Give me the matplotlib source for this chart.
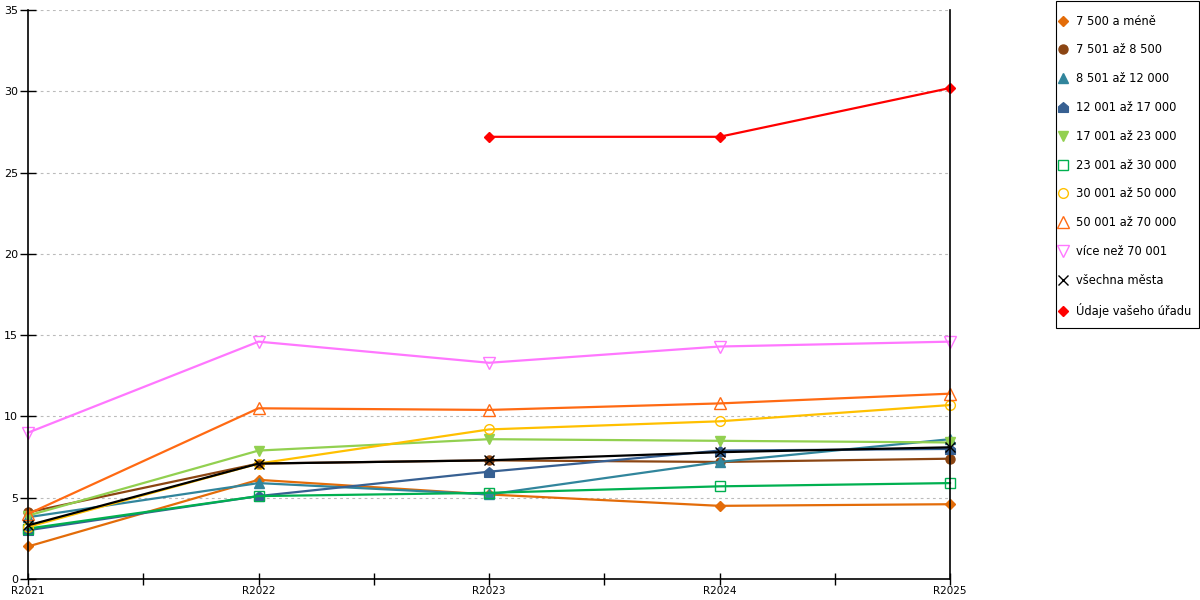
import numpy as np
import matplotlib

matplotlib.use('Agg')
import matplotlib.pyplot as plt
from matplotlib.lines import Line2D
from matplotlib.path import Path
from matplotlib.patches import Rectangle

years = ['R2021', 'R2022', 'R2023', 'R2024', 'R2025']

labels = ['7 500 a méně', '7 501 až 8 500', '8 501 až 12 000', '12 001 až 17 000',
          '17 001 až 23 000', '23 001 až 30 000', '30 001 až 50 000', '50 001 až 70 000',
          'více než 70 001', 'všechna města', 'Údaje vašeho úřadu']

s_7500 = [2.0, 6.1, 5.2, 4.5, 4.6]
s_8500 = [4.1, 7.1, 7.3, 7.2, 7.4]
s_12000 = [3.8, 5.9, 5.2, 7.2, 8.6]
s_17000 = [3.0, 5.1, 6.6, 7.9, 8.0]
s_23000 = [3.9, 7.9, 8.6, 8.5, 8.4]
s_30000 = [3.1, 5.1, 5.3, 5.7, 5.9]
s_50000 = [3.2, 7.1, 9.2, 9.7, 10.7]
s_70000 = [4.0, 10.5, 10.4, 10.8, 11.4]
s_over = [9.0, 14.6, 13.3, 14.3, 14.6]
s_all = [3.3, 7.1, 7.3, 7.8, 8.1]
s_office = [np.nan, np.nan, 27.2, 27.2, 30.2]

# house shaped marker (like the original)
house = Path([(-1, -1), (1, -1), (1, 0.15), (0, 1), (-1, 0.15), (-1, -1)],
             [Path.MOVETO, Path.LINETO, Path.LINETO, Path.LINETO, Path.LINETO, Path.CLOSEPOLY])

# (values, colour, marker, filled, size)
styles = [
    (s_7500, '#E36C09', 'D', True, 5),
    (s_8500, '#8B4513', 'o', True, 6.5),
    (s_12000, '#31859C', '^', True, 7),
    (s_17000, '#376092', house, True, 7),
    (s_23000, '#92D050', 'v', True, 7),
    (s_30000, '#00B050', 's', False, 7),
    (s_50000, '#FFC000', 'o', False, 7),
    (s_70000, '#FF6A13', '^', False, 8),
    (s_over, '#FF77FF', 'v', False, 8),
    (s_all, '#000000', 'x', True, 7),
    (s_office, '#FF0000', 'D', True, 5),
]

plt.rcParams['font.family'] = ['DejaVu Sans']
fig = plt.figure(figsize=(12, 6), dpi=100)
ax = fig.add_axes([28 / 1200, 21 / 600, 922 / 1200, 569 / 600])

x = np.arange(len(years))
handles = []
for (vals, col, mk, filled, ms), lab in zip(styles, labels):
    fc = col if filled else 'none'
    ax.plot(x, vals, color=col, lw=1.6, marker=mk, markersize=ms,
            markerfacecolor=fc, markeredgecolor=col, markeredgewidth=1.0, clip_on=False)
    handles.append(Line2D([], [], ls='none', marker=mk, markersize=ms, color=col,
                          markerfacecolor=fc, markeredgecolor=col, markeredgewidth=1.0, label=lab))

ax.set_xlim(0, 4)
ax.set_ylim(0, 35)
ax.set_xticks(x)
ax.set_xticklabels(years)
ax.set_xticks(x[:-1] + 0.5, minor=True)
ax.set_yticks(np.arange(0, 36, 5))
ax.tick_params(axis='x', which='both', direction='inout', length=8, width=1, labelsize=7.5, pad=1)
ax.tick_params(axis='y', direction='inout', length=12, width=1, labelsize=8, pad=1)
ax.yaxis.grid(True, color='#bbbbbb', linestyle=(0, (2.5, 3)), linewidth=0.8)
ax.set_axisbelow(True)
ax.spines['top'].set_visible(False)
for sp in ['left', 'right', 'bottom']:
    ax.spines[sp].set_linewidth(1.2)

# legend without its own frame; the box is drawn separately so the padding matches
leg = fig.legend(handles=handles, loc='upper left', bbox_to_anchor=(1055 / 1200, 590 / 600),
                 fontsize=8.3, frameon=False, handlelength=0.65,
                 handletextpad=0.75, labelspacing=1.37, borderpad=0.4, borderaxespad=0)
fig.add_artist(Rectangle((1055.5 / 1200, 272 / 600), 143 / 1200, 327 / 600,
                         transform=fig.transFigure, fill=False, edgecolor='black', linewidth=0.8))

fig.savefig('out.png', dpi=100)
